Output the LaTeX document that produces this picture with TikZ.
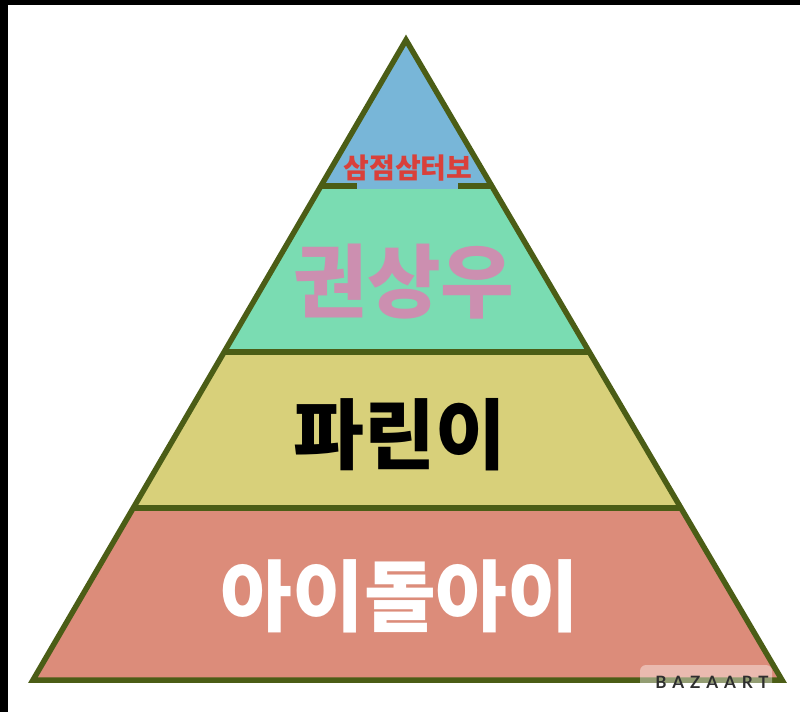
\documentclass[tikz,border=0pt]{standalone}
\usepackage{fontspec}
\usetikzlibrary{calc}
\newfontfamily\kr{Noto Sans CJK KR}
\newfontfamily\wm[LetterSpace=35]{Lato}
\definecolor{outl}{HTML}{4B5D16}
\definecolor{cblue}{HTML}{78B6D8}
\definecolor{cgreen}{HTML}{7ADCB2}
\definecolor{cyellow}{HTML}{D8D07A}
\definecolor{cred}{HTML}{DC8C7A}
\definecolor{tpink}{HTML}{CC8FB0}
\definecolor{tred}{HTML}{D9403A}
\definecolor{wmgray}{HTML}{2E2E2E}
\tikzset{
  edge/.style={draw=outl, line width=5.5pt, line join=miter},
  label/.style={inner sep=0pt, anchor=center},
}
\begin{document}
\begin{tikzpicture}[x=1pt, y=-1pt]
\useasboundingbox (0,0) rectangle (800,712);
\fill[white] (0,0) rectangle (800,712);
\fill[black] (0,0) rectangle (800,5);
\fill[black] (0,0) rectangle (8,712);
\coordinate (A) at (406,40);
\coordinate (BL) at (33,680);
\coordinate (BR) at (782,680);
\coordinate (L1) at ($(A)!0.228!(BL)$);
\coordinate (R1) at ($(A)!0.228!(BR)$);
\coordinate (L2) at ($(A)!0.4875!(BL)$);
\coordinate (R2) at ($(A)!0.4875!(BR)$);
\coordinate (L3) at ($(A)!0.73125!(BL)$);
\coordinate (R3) at ($(A)!0.73125!(BR)$);
\fill[cblue] (A) -- (L1) -- (R1) -- cycle;
\fill[cgreen] (L1) -- (L2) -- (R2) -- (R1) -- cycle;
\fill[cyellow] (L2) -- (L3) -- (R3) -- (R2) -- cycle;
\fill[cred] (L3) -- (BL) -- (BR) -- (R3) -- cycle;
\draw[edge] (L1) -- (R1);
\draw[edge] (L2) -- (R2);
\draw[edge] (L3) -- (R3);
\draw[edge] (A) -- (BL) -- (BR) -- cycle;
\fill[cblue] (357,178) rectangle (458,189);
\node[label, text=tred, font=\kr\bfseries\fontsize{28}{28}\selectfont] (t1) at (408,168) {삼점삼터보};
\node[label, text=tpink, font=\kr\bfseries\fontsize{80}{80}\selectfont] (t2) at (404,282) {권상우};
\node[label, text=black, font=\kr\bfseries\fontsize{77}{77}\selectfont] (t3) at (400,435) {파린이};
\node[label, text=white, font=\kr\bfseries\fontsize{78}{78}\selectfont] (t4) at (400,596) {아이돌아이};
\fill[white, opacity=0.4, rounded corners=6pt] (640,665) rectangle (772,692);
\node[label, text=wmgray, font=\wm\bfseries\fontsize{17}{17}\selectfont] (wm) at (712,682) {BAZAART};
\end{tikzpicture}
\end{document}
